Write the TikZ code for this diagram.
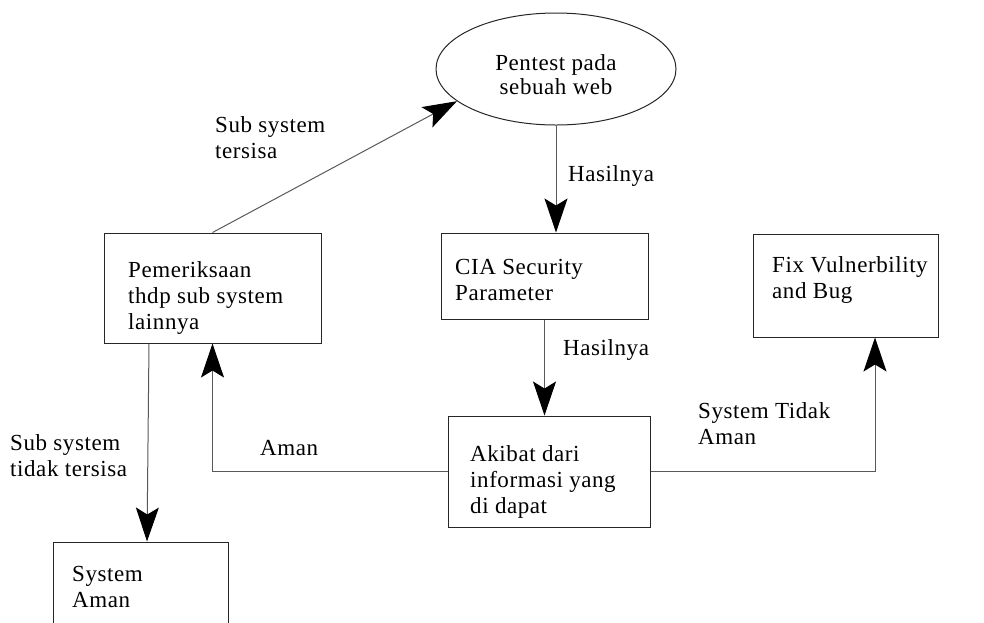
\documentclass[tikz,border=0pt]{standalone}
\usepackage{fontspec}
\setmainfont{Liberation Serif}[LetterSpace=2.5]
\usetikzlibrary{positioning, arrows.meta, shapes.geometric}

\begin{document}
\begin{tikzpicture}[
    x=1pt, y=-1pt,
    box/.style={rectangle, draw=black!85, line width=1pt, inner sep=0pt},
    oval/.style={ellipse, draw=black!85, line width=1pt, inner sep=0pt,
                 minimum width=240pt, minimum height=112pt},
    txt/.style={anchor=west, align=left, inner sep=0pt,
                font=\fontsize{23}{26}\selectfont},
    arrow/.style={-{Stealth[length=34pt, width=23pt, inset=7pt, color=black]},
                  line width=1pt, draw=black!65}
]
  \path[use as bounding box, clip] (0,0) rectangle (984,622);

  % --- Start ---
  \node[oval] (pentest) at (556,69) {};
  \node[txt, anchor=center, align=center, font=\fontsize{23}{24}\selectfont]
    (pentestT) at (556,75) {Pentest pada\\sebuah web};

  % --- Boxes ---
  \node[box, minimum width=207pt, minimum height=86pt] (cia) at (544.5,276) {};
  \node[txt] (ciaT) at (455,280) {CIA Security\\Parameter};

  \node[box, minimum width=202pt, minimum height=111pt] (akibat) at (549,471.5) {};
  \node[txt] (akibatT) at (470,482) {Akibat dari\\informasi yang\\di dapat};

  \node[box, minimum width=217pt, minimum height=110pt] (periksa) at (212.5,288) {};
  \node[txt] (periksaT) at (128,298) {Pemeriksaan\\thdp sub system\\lainnya};

  \node[box, minimum width=185pt, minimum height=103pt] (fix) at (845.5,285.5) {};
  \node[txt] (fixT) at (772,280) {Fix Vulnerbility\\and Bug};

  \node[box, minimum width=175pt, minimum height=100pt] (aman) at (140.5,592) {};
  \node[txt] (amanT) at (72,587) {System\\Aman};

  % --- Connectors ---
  \draw[arrow] (pentest.south) -- (pentest.south |- cia.north);
  \draw[arrow] (cia.south) -- (cia.south |- akibat.north);
  \draw[arrow] (akibat.west) -| (periksa.south);
  \draw[arrow] (akibat.east) -| ([xshift=29.5pt]fix.south);
  \draw[arrow] (periksa.north) -- (pentest.198);
  \draw[arrow] ([xshift=-63.5pt]periksa.south) -- ([xshift=6.5pt]aman.north);

  % --- Labels ---
  \node[txt] (lblSisa) at (215,138) {Sub system\\tersisa};
  \node[txt] (lblHasil1) at (568,176) {Hasilnya};
  \node[txt] (lblHasil2) at (563,350) {Hasilnya};
  \node[txt] (lblAman) at (260,448) {Aman};
  \node[txt] (lblTidak) at (698,424) {System Tidak\\Aman};
  \node[txt] (lblHabis) at (10,456) {Sub system\\tidak tersisa};
\end{tikzpicture}
\end{document}
